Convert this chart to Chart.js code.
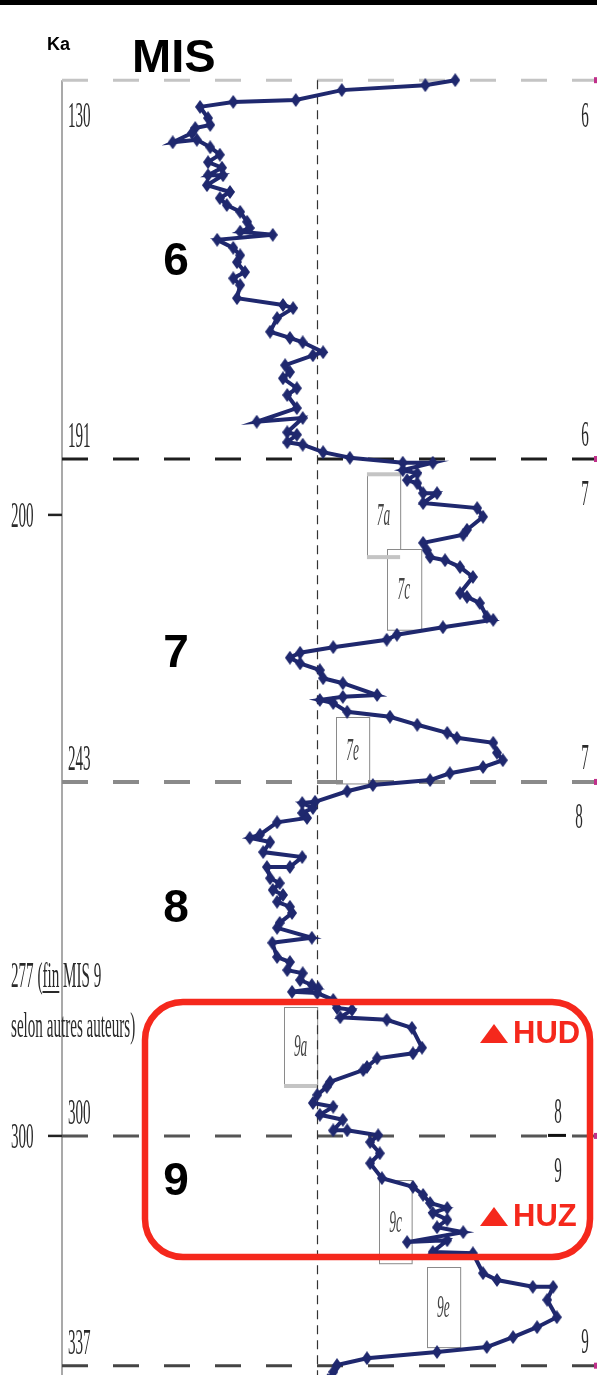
<!DOCTYPE html>
<html>
<head>
<meta charset="utf-8">
<script src="https://cdn.jsdelivr.net/npm/chart.js@4.4.1/dist/chart.umd.min.js"></script>
<style>
  html, body { margin: 0; padding: 0; background: #fff; overflow: hidden; }
  #chart { display: block; }
</style>
</head>
<body>
<canvas id="chart" width="597" height="1375"></canvas>
<script>
// age (ka) of each sample, top to bottom
var ages = [
  130.0, 130.8, 131.6, 133.2, 133.5, 134.3, 136.1, 137.2, 137.7, 138.5,
  140.0, 139.6, 140.8, 142.0, 143.2, 144.1, 145.3, 145.3, 146.9, 148.0,
  149.0, 150.1, 151.2, 152.8, 153.8, 154.4, 154.9, 155.7, 157.0, 158.2,
  159.3, 160.9, 161.9, 163.0, 165.1, 166.2, 166.7, 168.3, 170.5, 171.5,
  172.2, 173.8, 174.3, 175.9, 177.0, 178.0, 179.6, 180.7, 182.8, 185.0,
  184.4, 186.7, 187.1, 188.3, 188.7, 189.9, 190.8, 191.6, 191.6, 192.8,
  193.3, 194.4, 194.9, 196.5, 196.5, 198.1, 198.9, 200.3, 202.4, 203.2,
  204.5, 205.7, 206.8, 207.3, 208.4, 210.0, 212.6, 213.2, 214.2, 216.4,
  216.9, 218.1, 219.3, 220.1, 221.3, 222.2, 223.0, 223.9, 225.0, 226.3,
  227.1, 229.0, 229.3, 229.8, 230.3, 231.7, 232.5, 233.8, 235.1, 235.9,
  236.7, 238.3, 239.5, 240.6, 241.6, 242.7, 243.5, 244.5, 246.2, 246.4,
  247.2, 248.0, 248.8, 249.5, 251.5, 252.0, 252.7, 254.3, 255.1, 256.7,
  256.7, 258.5, 259.3, 260.4, 261.2, 262.3, 263.1, 264.1, 265.7, 266.5,
  268.1, 268.9, 271.2, 272.0, 273.3, 273.8, 274.9, 275.7, 276.2, 276.8,
  277.0, 278.1, 279.4, 279.7, 280.9, 281.3, 282.6, 285.8, 286.7, 287.5,
  288.9, 289.4, 291.3, 292.1, 293.4, 294.7, 295.3, 296.6, 297.4, 299.1,
  299.1, 299.9, 301.0, 302.8, 304.4, 306.8, 308.2, 309.5, 310.8, 311.6,
  312.4, 313.5, 314.7, 315.5, 317.1, 316.8, 318.7, 318.9, 322.1, 323.2,
  324.3, 324.3, 326.4, 329.2, 330.8, 332.4, 334.0, 334.8, 335.8, 336.9,
  338.0, 339.3
];
// isotope signal, relative units (0 = left axis, 100 = right edge)
var values = [
  73.5, 67.9, 52.3, 43.7, 32.0, 25.8, 27.3, 27.7, 24.9, 24.3,
  20.7, 25.2, 27.7, 29.5, 27.3, 29.9, 27.3, 30.1, 27.1, 31.4,
  29.5, 30.8, 33.3, 34.6, 35.1, 33.3, 39.4, 29.0, 32.0, 33.3,
  32.7, 34.2, 32.0, 33.3, 32.7, 41.3, 43.2, 40.2, 38.9, 42.6,
  45.0, 48.8, 46.9, 41.7, 42.6, 41.3, 43.9, 42.1, 43.9, 36.4,
  45.0, 42.1, 43.9, 42.1, 45.0, 48.8, 53.8, 63.7, 69.3, 63.7,
  66.4, 64.5, 66.4, 67.5, 70.1, 67.5, 77.6, 78.7, 75.7, 75.0,
  67.5, 68.2, 68.8, 71.6, 74.4, 76.8, 74.4, 75.7, 78.1, 79.4,
  80.6, 71.2, 62.6, 60.7, 50.7, 44.5, 42.6, 44.5, 48.2, 48.8,
  52.5, 58.9, 52.5, 48.2, 50.7, 53.3, 61.3, 66.4, 72.0, 73.8,
  80.6, 81.3, 82.4, 78.7, 72.5, 68.8, 58.1, 53.3, 47.3, 44.9,
  46.9, 44.9, 45.8, 40.2, 37.0, 35.1, 38.9, 37.6, 44.9, 42.6,
  38.3, 38.9, 40.7, 39.4, 41.3, 40.2, 42.6, 43.0, 40.7, 40.2,
  46.7, 39.3, 40.2, 42.6, 42.1, 45.0, 44.5, 46.7, 47.9, 43.0,
  47.7, 50.7, 51.4, 54.2, 52.0, 60.7, 65.4, 67.3, 65.6, 58.9,
  57.0, 56.3, 50.1, 49.5, 47.7, 46.9, 50.7, 48.2, 52.5, 50.7,
  53.3, 59.1, 57.6, 59.4, 57.6, 59.8, 65.6, 67.5, 68.8, 72.0,
  69.3, 72.0, 70.1, 75.0, 64.5, 72.0, 69.3, 76.8, 78.7, 81.3,
  88.0, 91.8, 90.7, 92.5, 88.8, 84.3, 79.4, 70.1, 57.0, 51.4,
  50.7, 49.7
];

// MIS boundaries (ka) and the stages above / below them
var boundaryAges = [130, 191, 243, 300, 337];
var stageAbove = ['', '6', '7', '8', '9'];
var stageBelow = ['6', '7', '8', '9', ''];
var misStages = ['6', '7', '8', '9'];
var misLabelAges = [158.6, 221.8, 262.8, 306.8];
var axisTicks = [200, 300];
var meanValue = 47.7;

// substages: label, age top, age bottom, value left, value right
var subLabels = ['7a', '7c', '7e', '9a', '9c', '9e'];
var subAgeTop = [193.3, 205.5, 232.5, 279.2, 307.1, 321.1];
var subAgeBot = [206.8, 218.5, 243.2, 291.8, 320.5, 334.0];
var subValLeft = [57.0, 60.7, 51.2, 41.5, 59.3, 68.2];
var subValRight = [63.2, 67.1, 57.4, 47.7, 65.4, 74.4];

var NAVY = '#1f286e';
var RED = '#f5281c';
var SERIF = '"Liberation Serif", "DejaVu Serif", serif';
var SANS = '"Liberation Sans", Arial, sans-serif';

function serifText(ctx, text, x, y, size, align, italic, color) {
  ctx.save();
  ctx.font = (italic ? 'italic ' : '') + size + 'px ' + SERIF;
  ctx.fillStyle = color || '#2a2a2a';
  ctx.textBaseline = 'alphabetic';
  ctx.textAlign = align;
  ctx.translate(x, y);
  ctx.scale(0.42, 1);
  ctx.fillText(text, 0, 0);
  ctx.restore();
}

// tall diamond marker
var marker = document.createElement('canvas');
marker.width = 10; marker.height = 14;
(function() {
  var m = marker.getContext('2d');
  m.fillStyle = NAVY;
  m.beginPath();
  m.moveTo(5, 0); m.lineTo(10, 7); m.lineTo(5, 14); m.lineTo(0, 7);
  m.closePath();
  m.fill();
})();

var backdrop = {
  id: 'backdrop',
  beforeDatasetsDraw: function(chart) {
    var ctx = chart.ctx, xs = chart.scales.x, ys = chart.scales.y;
    var left = xs.getPixelForValue(0), right = chart.width;
    var top = ys.getPixelForValue(130), bottom = chart.height;
    ctx.save();

    // frame bar at top
    ctx.fillStyle = '#000';
    ctx.fillRect(0, 0, chart.width, 5);

    // substage boxes
    for (var i = 0; i < subLabels.length; i++) {
      var bx = xs.getPixelForValue(subValLeft[i]), bx2 = xs.getPixelForValue(subValRight[i]);
      var by = ys.getPixelForValue(subAgeTop[i]), by2 = ys.getPixelForValue(subAgeBot[i]);
      ctx.fillStyle = '#fff';
      ctx.fillRect(bx, by, bx2 - bx, by2 - by);
      ctx.strokeStyle = '#8a8a8a';
      ctx.lineWidth = 1;
      ctx.setLineDash([]);
      ctx.strokeRect(Math.round(bx) + 0.5, Math.round(by) + 0.5, bx2 - bx, by2 - by);
      serifText(ctx, subLabels[i], (bx + bx2) / 2, (by + by2) / 2 + 10, 32, 'center', true, '#444');
    }
    // grey rims on 7a and 9a
    ctx.fillStyle = '#c4c4c4';
    ctx.fillRect(xs.getPixelForValue(subValLeft[0]), ys.getPixelForValue(subAgeTop[0]) - 1, xs.getPixelForValue(subValRight[0]) - xs.getPixelForValue(subValLeft[0]), 4);
    ctx.fillRect(xs.getPixelForValue(subValLeft[0]), ys.getPixelForValue(subAgeBot[0]) - 2, xs.getPixelForValue(subValRight[0]) - xs.getPixelForValue(subValLeft[0]), 4);
    ctx.fillRect(xs.getPixelForValue(subValLeft[3]), ys.getPixelForValue(subAgeBot[3]) - 1, xs.getPixelForValue(subValRight[3]) - xs.getPixelForValue(subValLeft[3]), 4);

    // left axis
    ctx.strokeStyle = '#8c8c8c';
    ctx.lineWidth = 1.5;
    ctx.beginPath();
    ctx.moveTo(left, top); ctx.lineTo(left, bottom);
    ctx.stroke();

    // left ticks
    ctx.strokeStyle = '#222';
    ctx.lineWidth = 2.5;
    axisTicks.forEach(function(a) {
      var y = ys.getPixelForValue(a);
      ctx.beginPath(); ctx.moveTo(48, y); ctx.lineTo(left, y); ctx.stroke();
    });

    // MIS boundaries
    var bColors = ['#c4c4c4', '#1e1e1e', '#8a8a8a', '#555', '#444'];
    var bWidths = [3, 3, 4, 3, 3];
    ctx.setLineDash([26, 25]);
    boundaryAges.forEach(function(a, k) {
      var y = ys.getPixelForValue(a);
      ctx.strokeStyle = bColors[k];
      ctx.lineWidth = bWidths[k];
      ctx.beginPath(); ctx.moveTo(left, y); ctx.lineTo(right, y); ctx.stroke();
    });
    ctx.setLineDash([]);
    ctx.fillStyle = '#c0308a';
    boundaryAges.forEach(function(a) {
      var y = ys.getPixelForValue(a);
      ctx.fillRect(right - 3, y - 3, 3, 6);
    });

    // mean line
    var mx = Math.round(xs.getPixelForValue(meanValue)) + 0.5;
    ctx.strokeStyle = '#333';
    ctx.lineWidth = 1.2;
    ctx.setLineDash([9, 6]);
    ctx.beginPath(); ctx.moveTo(mx, top); ctx.lineTo(mx, bottom); ctx.stroke();
    ctx.restore();
  },
  afterDatasetsDraw: function(chart) {
    var ctx = chart.ctx, xs = chart.scales.x, ys = chart.scales.y;
    var left = xs.getPixelForValue(0);
    ctx.save();

    // header
    ctx.fillStyle = '#000';
    ctx.textAlign = 'left';
    ctx.textBaseline = 'alphabetic';
    ctx.font = 'bold 18px ' + SANS;
    ctx.fillText('Ka', 47, 50);
    ctx.font = 'bold 47px ' + SANS;
    ctx.fillText('MIS', 132, 72);

    // boundary ages inside the plot
    boundaryAges.forEach(function(a, k) {
      var y = ys.getPixelForValue(a);
      serifText(ctx, String(a), left + 6, k === 0 ? y + 47 : y - 12, 36, 'left');
    });
    // axis tick labels
    axisTicks.forEach(function(a) {
      serifText(ctx, String(a), 11, ys.getPixelForValue(a) + 12, 36, 'left');
    });
    // note about the end of MIS 9
    serifText(ctx, '277 (fin MIS 9', 11, 987, 36, 'left');
    serifText(ctx, 'selon autres auteurs)', 11, 1037, 36, 'left');
    ctx.save();
    ctx.font = '36px ' + SERIF;
    var u0 = 11 + ctx.measureText('277 (').width * 0.42;
    var u1 = u0 + ctx.measureText('fin').width * 0.42;
    ctx.restore();
    ctx.fillStyle = '#2a2a2a';
    ctx.fillRect(u0, 991, u1 - u0, 2);

    // stage numbers at right edge
    boundaryAges.forEach(function(a, k) {
      var y = ys.getPixelForValue(a);
      var rx = (a === 300) ? 558 : 585;
      if (stageAbove[k]) serifText(ctx, stageAbove[k], rx, y - 13, 36, 'center');
      if (stageBelow[k]) serifText(ctx, stageBelow[k], (a === 243) ? 579 : rx, k === 0 ? y + 47 : y + 46, 36, 'center');
    });
    ctx.fillStyle = '#111';
    ctx.fillRect(548, ys.getPixelForValue(300) - 2, 18, 3);

    // big MIS numbers
    ctx.fillStyle = '#000';
    ctx.font = 'bold 46px ' + SANS;
    ctx.textAlign = 'center';
    misStages.forEach(function(s, k) {
      ctx.fillText(s, 176, ys.getPixelForValue(misLabelAges[k]) + 17);
    });

    // red frame with HUD / HUZ
    ctx.strokeStyle = RED;
    ctx.lineWidth = 6.5;
    ctx.beginPath();
    ctx.roundRect(145, 1002, 445, 255, 38);
    ctx.stroke();
    ctx.fillStyle = RED;
    [[1043, 'HUD'], [1226, 'HUZ']].forEach(function(t) {
      var by = t[0];
      ctx.beginPath();
      ctx.moveTo(480, by); ctx.lineTo(508, by); ctx.lineTo(494, by - 19);
      ctx.closePath(); ctx.fill();
      ctx.font = 'bold 31px ' + SANS;
      ctx.textAlign = 'left';
      ctx.fillText(t[1], 513, by);
    });
    ctx.restore();
  }
};

var points = ages.map(function(a, i) { return { x: values[i], y: a }; });

new Chart(document.getElementById('chart'), {
  type: 'scatter',
  data: {
    datasets: [{
      data: points,
      showLine: true,
      borderColor: NAVY,
      borderWidth: 4,
      tension: 0,
      pointStyle: marker,
      pointRadius: 5,
      pointBackgroundColor: NAVY,
      pointBorderColor: NAVY
    }]
  },
  options: {
    responsive: false,
    animation: false,
    events: [],
    layout: { autoPadding: false, padding: { left: 62, top: 60, right: 0, bottom: 0 } },
    scales: {
      x: { type: 'linear', min: 0, max: 100, display: false },
      y: { type: 'linear', reverse: true, min: 126.75, max: 338.5, display: false }
    },
    plugins: {
      legend: { display: false },
      tooltip: { enabled: false }
    }
  },
  plugins: [backdrop]
});
</script>
</body>
</html>
